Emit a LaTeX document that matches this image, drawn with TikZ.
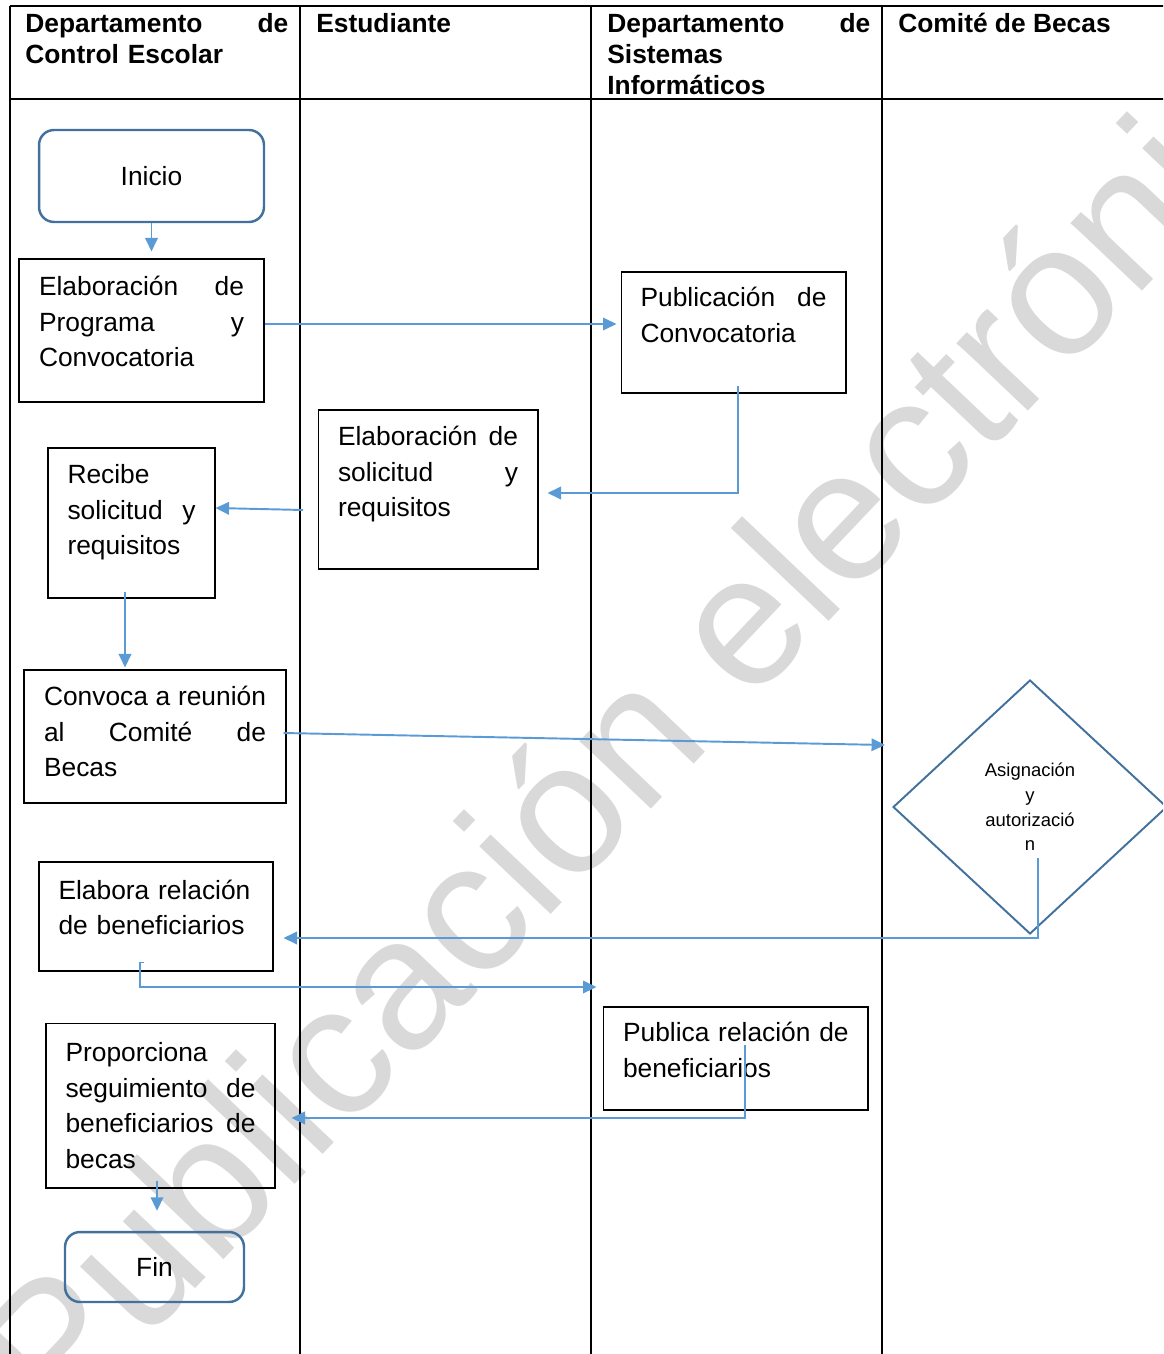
\documentclass[tikz,border=0pt]{standalone}
\usepackage{fontspec}
\setmainfont{Liberation Sans}
\usetikzlibrary{shapes.geometric,arrows.meta}
\definecolor{flujo}{HTML}{5B9BD5}
\definecolor{borde}{HTML}{41719C}
\definecolor{marca}{HTML}{D9D9D9}
\newcommand{\spreadline}[1]{\makebox[\hsize][l]{#1}}

\begin{document}
\begin{tikzpicture}[x=0.02cm, y=-0.02cm]
  \tikzset{
    lane/.style={line width=0.6pt},
    head/.style={anchor=base west, inner sep=0pt, align=left, font=\fontsize{15}{17.4}\selectfont\bfseries},
    proc/.style={draw, line width=0.6pt, inner sep=0pt, align=left, font=\fontsize{15}{20.2}\selectfont},
    term/.style={draw=borde, line width=1.4pt, rounded corners=0.3cm, font=\fontsize{15}{20.2}\selectfont},
    decision/.style={diamond, draw=borde, line width=1.1pt, inner sep=0pt, align=center, font=\fontsize{10.5}{14}\selectfont},
    flow/.style={draw=flujo, line width=1.1pt, -{Triangle[length=0.27cm,width=0.25cm]}}
  }
  \useasboundingbox (0,0) rectangle (1163,1354);
  \clip (0,0) rectangle (1163,1354);
  \node[anchor=base west, inner sep=0pt, rotate=46.5, text=marca, font=\fontsize{106}{106}\selectfont] (marca) at (58,1434) {Publicación electrónica};

  \draw[lane] (10,6) -- (1180,6);
  \draw[lane] (10,99) -- (1180,99);
  \foreach \x in {10,300,591,882}
    \draw[lane] (\x,6) -- (\x,1360);

  \node[head, text width=5.26cm] (hcontrol) at (25,33) {\spreadline{Departamento\hfill de}\\Control Escolar};
  \node[head] (hestud) at (316,33) {Estudiante};
  \node[head, text width=5.26cm] (hsist) at (607,33) {\spreadline{Departamento\hfill de}\\Sistemas\\Informáticos};
  \node[head] (hcomite) at (898,33) {Comité de Becas};

  \node[term, minimum width=4.5cm, minimum height=1.84cm] (inicio) at (151.5,176) {Inicio};
  \node[proc, minimum width=4.9cm, minimum height=2.86cm, text width=4.1cm] (prog) at (141.5,330.5)
    {\spreadline{Elaboración\hfill de}\\\spreadline{Programa\hfill y}\\Convocatoria\\[-10pt]\mbox{}};
  \node[proc, minimum width=4.5cm, minimum height=2.42cm, text width=3.72cm] (pub) at (733.5,332.5)
    {\spreadline{Publicación\hfill de}\\Convocatoria\\\mbox{}};
  \node[proc, minimum width=4.4cm, minimum height=3.18cm, text width=3.6cm] (sol) at (428,489.5)
    {\spreadline{Elaboración\hfill de}\\\spreadline{solicitud\hfill y}\\requisitos\\\mbox{}};
  \node[proc, minimum width=3.34cm, minimum height=3cm, text width=2.56cm] (rec) at (131.5,523)
    {Recibe\\\spreadline{solicitud\hfill y}\\requisitos\\[-5pt]\mbox{}};
  \node[proc, minimum width=5.24cm, minimum height=2.66cm, text width=4.44cm] (conv) at (155,736.5)
    {\spreadline{Convoca\hfill a\hfill reunión}\\\spreadline{al\hfill Comité\hfill de}\\Becas\\[-14.5pt]\mbox{}};
  \node[decision, minimum width=5.48cm, minimum height=5.08cm] (asig) at (1030,807)
    {Asignación\\y\\autorizació\\n};
  \node[proc, minimum width=4.68cm, minimum height=2.18cm, text width=3.9cm] (rel) at (156,916.5)
    {\mbox{Elabora relación}\\\mbox{de beneficiarios}\\[-10pt]\mbox{}};
  \node[proc, minimum width=5.3cm, minimum height=2.06cm, text width=4.5cm] (pubrel) at (735.5,1058.5)
    {\mbox{Publica relación de}\\beneficiarios\\[-10pt]\mbox{}};
  \node[proc, minimum width=4.58cm, minimum height=3.3cm, text width=3.8cm] (seg) at (160.5,1105.5)
    {Proporciona\\\spreadline{seguimiento\hfill de}\\\spreadline{beneficiarios\hfill de}\\becas};
  \node[term, minimum width=3.58cm, minimum height=1.4cm] (fin) at (154.5,1267) {Fin};

  \draw[flow, shorten >=0.14cm] (inicio.south) -- (inicio.south |- prog.north);
  \draw[flow, shorten >=0.08cm] ([yshift=0.13cm]prog.east) -- ([yshift=0.13cm]prog.east -| pub.west);
  \draw[flow, shorten >=0.18cm] ([xshift=0.09cm,yshift=0.16cm]pub.south) |- ([yshift=-0.07cm]sol.east);
  \coordinate (solout) at (303,510);
  \draw[flow] (solout) -- ([yshift=0.3cm]rec.east);
  \draw[flow, shorten >=0.04cm] ([xshift=-0.13cm,yshift=0.14cm]rec.south) -- ([xshift=-0.13cm]rec.south |- conv.north);
  \draw[flow] ([xshift=-0.06cm,yshift=0.07cm]conv.east) -- ([xshift=-0.14cm,yshift=1.24cm]asig.west);
  \draw[flow] ([xshift=0.16cm,yshift=-1.02cm]asig.center) |- ([xshift=0.2cm,yshift=-0.43cm]rel.east);
  \draw[flow] ([xshift=-0.24cm,yshift=0.18cm]rel.south) -- ++(-4,0) |- ([xshift=-0.12cm,yshift=1.43cm]pubrel.west);
  \draw[flow] ([xshift=0.19cm,yshift=0.27cm]pubrel.center) |- ([xshift=0.32cm,yshift=-0.25cm]seg.east);
  \draw[flow, shorten >=0.4cm] ([xshift=-0.07cm,yshift=0.16cm]seg.south) -- ([xshift=-0.07cm]seg.south |- fin.north);
\end{tikzpicture}
\end{document}
